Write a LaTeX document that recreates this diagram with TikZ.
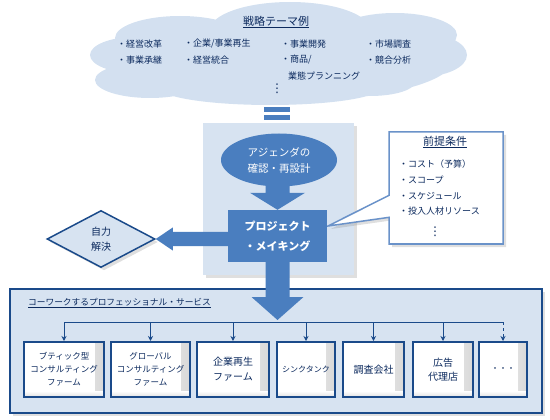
\documentclass[tikz,border=0pt]{standalone}
\usepackage{fontspec}
\setmainfont{Noto Sans CJK JP}
\newfontfamily\dejavu{DejaVu Sans}
\usetikzlibrary{shapes.geometric,shapes.callouts,shadows,calc,arrows.meta}
\definecolor{cloudc}{HTML}{D3E0F0}
\definecolor{panelc}{HTML}{D7E3F1}
\definecolor{abl}{HTML}{4A7EBF}
\definecolor{navy}{HTML}{1A4A8A}
\definecolor{txt}{HTML}{0C2A5E}
\definecolor{calb}{HTML}{6A92C9}
\tikzset{
  ct/.style={text=txt, font=\fontsize{9}{11}\selectfont, inner sep=0pt, anchor=west},
  shd/.style={drop shadow={shadow xshift=3pt, shadow yshift=-3pt, opacity=0.25}},
  panel/.style={rectangle, fill=panelc, shd},
  sbox/.style={rectangle, draw=navy, line width=2pt, fill=white, minimum height=55pt,
    text=txt, align=center, inner sep=1pt,
    path picture={
      \shade[left color=white, right color=black!15]
        ([xshift=-9pt]path picture bounding box.north east) rectangle (path picture bounding box.south east);
      \shade[top color=white, bottom color=black!12]
        (path picture bounding box.south west) rectangle ([yshift=6pt]path picture bounding box.south east);
    }},
  busline/.style={draw=navy, line width=0.9pt},
  bustip/.style={-{Stealth[length=5pt,width=5pt]}},
}
\begin{document}
\begin{tikzpicture}[x=1pt,y=-1pt]
\useasboundingbox (0,0) rectangle (550,420);
% cloud
\fill[cloudc] (278,60) ellipse [x radius=175, y radius=42]
  (290,30) ellipse [x radius=80, y radius=28]
  (180,38) ellipse [x radius=65, y radius=22]
  (395,35) ellipse [x radius=62, y radius=22]
  (420,55) ellipse [x radius=47, y radius=22]
  (135,55) ellipse [x radius=45, y radius=18]
  (150,80) ellipse [x radius=55, y radius=18]
  (370,82) ellipse [x radius=45, y radius=14]
  (270,88) ellipse [x radius=110, y radius=17];
\node[ct, anchor=center, font=\fontsize{11}{13}\selectfont] (ttl) at (276,22) {\underline{戦略テーマ例}};
\node[ct] (t11) at (117,44) {・経営改革};
\node[ct] (t12) at (117,60) {・事業承継};
\node[ct] (t21) at (184,44) {・企業/事業再生};
\node[ct] (t22) at (184,60) {・経営統合};
\node[ct] (t31) at (281,44) {・事業開発};
\node[ct] (t32) at (281,60) {・商品/};
\node[ct] (t33) at (288,76) {業態プランニング};
\node[ct] (t41) at (366,44) {・市場調査};
\node[ct] (t42) at (366,60) {・競合分析};
\node[ct, anchor=center, font=\dejavu\fontsize{12}{12}\selectfont] (tdots) at (277,89) {⋮};
% double bars
\fill[abl] (264,107.5) rectangle (290,112.5);
\fill[abl] (264,115) rectangle (290,120);
% panels
\node[panel, minimum width=151pt, minimum height=152pt] (tp) at (278.5,199) {};
\node[panel, draw=navy, line width=2pt, minimum width=532pt, minimum height=124pt] (bp) at (276,351) {};
% callout
\node[rectangle callout, draw=calb, line width=1.5pt, fill=white, minimum width=114pt, minimum height=112pt,
  callout absolute pointer={(328,226)}, callout pointer width=22pt, shd] (pc) at (446,188) {};
\node[ct, anchor=center, font=\fontsize{11}{13}\selectfont] (pct) at (445,142) {\underline{前提条件}};
\node[ct] (p1) at (399,164) {・コスト（予算）};
\node[ct] (p2) at (399,180) {・スコープ};
\node[ct] (p3) at (399,196) {・スケジュール};
\node[ct] (p4) at (399,211) {・投入人材リソース};
\node[ct, anchor=center, font=\dejavu\fontsize{12}{12}\selectfont] (pdots) at (435,232) {⋮};
% ellipse and project box
\node[ellipse, fill=abl, minimum width=116pt, minimum height=53pt, inner sep=0pt, text=white, align=center,
  font=\fontsize{10.5}{16}\selectfont] (el) at (279,160) {アジェンダの\\確認・再設計};
\node[rectangle, fill=abl, minimum width=99pt, minimum height=52pt, inner sep=0pt, text=white, align=center,
  font=\bfseries\fontsize{11}{20}\selectfont] (pm) at (277.5,236) {プロジェクト\\・メイキング};
% diamond
\node[diamond, aspect=1.9, minimum width=108pt, minimum height=57pt, inner sep=0pt, draw=navy, line width=1.5pt,
  fill=panelc, text=txt, align=center, font=\fontsize{10}{15}\selectfont, shd] (dm) at (101,239) {自力\\解決};
% big arrows
\fill[abl] (pm.north) -- ++(-27.5,-17) -- ++(15.5,0) -- ($(el.south -| pm.north)+(-12,-4)$) -- ++(24,0)
  -- ($(pm.north)+(12,-17)$) -- ++(15.5,0) -- cycle;
\fill[abl] (dm.east) -- ++(17,-11.5) -- ++(0,4.5) -- ($(pm.west|-dm.east)+(0,-7)$) -- ++(0,14)
  -- ($(dm.east)+(17,7)$) -- ++(0,4.5) -- cycle;
\coordinate (tipB) at (277.5,320);
\fill[abl] (tipB) -- ++(-26,-23) -- ++(14,0) -- ($(pm.south)+(-12,0)$) -- ++(24,0)
  -- ($(tipB)+(12,-23)$) -- ++(14,0) -- cycle;
% bottom
\node[ct, font=\fontsize{8.7}{10}\selectfont] (bt) at (28,303) {\underline{コーワークするプロフェッショナル・サービス}};
\node[sbox, minimum width=80pt, font=\fontsize{8.5}{13}\selectfont] (b1) at (64,369.5) {ブティック型\\コンサルティング\\ファーム};
\node[sbox, minimum width=79pt, font=\fontsize{8.5}{13}\selectfont] (b2) at (150.5,369.5) {グローバル\\コンサルティング\\ファーム};
\node[sbox, minimum width=72pt, font=\fontsize{10}{15}\selectfont] (b3) at (233,369.5) {企業再生\\ファーム};
\node[sbox, minimum width=58pt, font=\fontsize{8}{10}\selectfont] (b4) at (306,369.5) {シンクタンク};
\node[sbox, minimum width=61pt, font=\fontsize{10}{12}\selectfont] (b5) at (373.5,369.5) {調査会社};
\node[sbox, minimum width=60pt, font=\fontsize{10}{14}\selectfont] (b6) at (443,369.5) {広告\\代理店};
\node[sbox, minimum width=48pt, font=\fontsize{8}{10}\selectfont] (b7) at (503,369.5) {・・・};
\coordinate (busL) at (65,322);
\draw[busline] (b1.north |- busL) -- (b7.north |- busL);
\foreach \b in {b1,b2,b3,b4,b5,b6} \draw[busline, bustip] (\b.north |- busL) -- (\b.north);
\draw[busline, bustip, dashed] (b7.north |- busL) -- (b7.north);
\end{tikzpicture}
\end{document}
